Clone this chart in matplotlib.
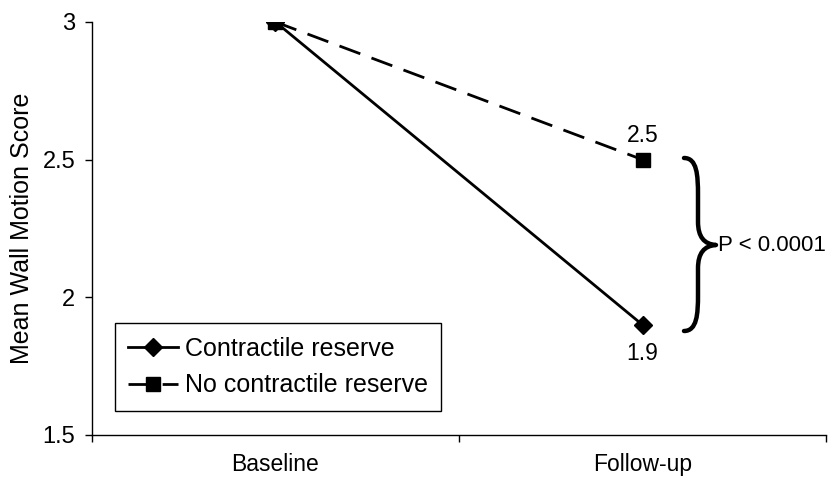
import matplotlib
matplotlib.use("Agg")
import matplotlib.pyplot as plt
from matplotlib.path import Path
from matplotlib.patches import PathPatch

plt.rcParams['font.family'] = ['Liberation Sans', 'DejaVu Sans']

categories = ["Baseline", "Follow-up"]
contractile = [3.0, 1.9]
no_contractile = [3.0, 2.5]
series_names = ["Contractile reserve", "No contractile reserve"]
p_text = "P < 0.0001"

FS = 16.5
fig = plt.figure(figsize=(8.31, 4.78), dpi=100)
ax = fig.add_axes([0.1107, 0.090, 0.8833, 0.864])

x = list(range(len(categories)))
ax.plot(x, contractile, color='black', lw=2, marker='D', ms=9, label=series_names[0], zorder=3)
ax.plot(x, no_contractile, color='black', lw=2, ls=(0, (8, 4.3)), marker='s', ms=10,
        label=series_names[1], zorder=3)

ax.annotate(f"{no_contractile[1]:g}", (x[1], no_contractile[1]), xytext=(0, 9),
            textcoords='offset points', ha='center', va='bottom', fontsize=FS)
ax.annotate(f"{contractile[1]:g}", (x[1], contractile[1]), xytext=(0, -12),
            textcoords='offset points', ha='center', va='top', fontsize=FS)

ax.set_xlim(-0.5, 1.5)
ax.set_ylim(1.5, 3.0)
ax.set_yticks([1.5, 2.0, 2.5, 3.0])
ax.set_yticklabels(["1.5", "2", "2.5", "3"])
ax.set_xticks([-0.5, 0.5, 1.5])
ax.set_xticklabels([])
ax.set_xticks(x, minor=True)
ax.set_xticklabels(categories, minor=True)
ax.tick_params(axis='x', which='minor', length=0, pad=13, labelsize=FS)
ax.tick_params(axis='x', which='major', length=5, width=1, direction='out')
ax.tick_params(axis='y', length=5, width=1, direction='out', labelsize=17, pad=7)
for s in ['top', 'right']:
    ax.spines[s].set_visible(False)
for s in ['left', 'bottom']:
    ax.spines[s].set_linewidth(1)
ax.set_ylabel("Mean Wall Motion Score", fontsize=18, labelpad=6)

leg = ax.legend(loc='lower left', bbox_to_anchor=(0.031, 0.058), borderaxespad=0,
                fancybox=False, edgecolor='black', framealpha=1, fontsize=18,
                handlelength=2.0, handletextpad=0.25, borderpad=0.55, labelspacing=0.5)
leg.get_frame().set_linewidth(1)

# curly brace in pixel coordinates (figure), converted to figure fraction
W, H = 831, 478
def P(px, py):
    return (px / W, 1 - py / H)
verts = [P(684, 158), P(697, 158), P(698, 175), P(698, 195),
         P(698, 222), P(698, 244), P(716, 245),
         P(698, 246), P(698, 268), P(698, 295),
         P(698, 314), P(697, 331), P(684, 331)]
codes = [Path.MOVETO, Path.CURVE4, Path.CURVE4, Path.CURVE4,
         Path.LINETO, Path.CURVE3, Path.CURVE3,
         Path.CURVE3, Path.CURVE3, Path.LINETO,
         Path.CURVE4, Path.CURVE4, Path.CURVE4]
brace = PathPatch(Path(verts, codes), transform=fig.transFigure, fill=False,
                  lw=3.2, color='black', capstyle='round', joinstyle='round')
fig.patches.append(brace)
fig.text(718 / W, 1 - 246 / H, p_text, ha='left', va='center', fontsize=16)

fig.savefig("out.png", dpi=100)
